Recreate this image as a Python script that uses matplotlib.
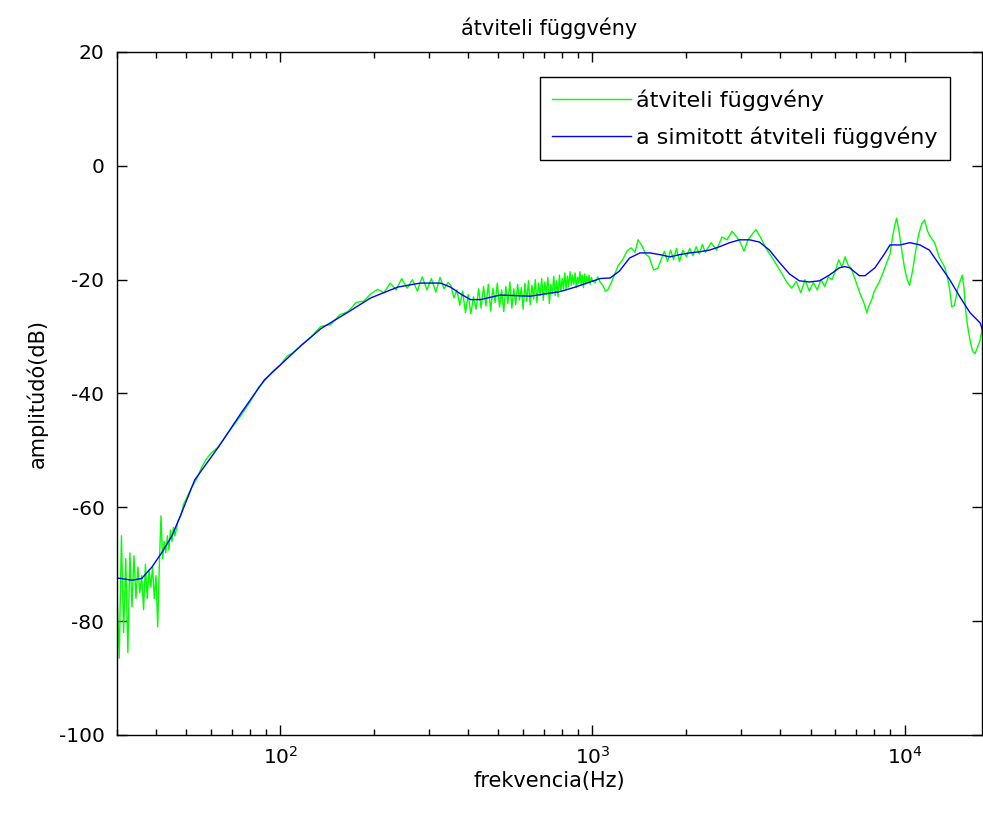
"""Transfer function (átviteli függvény) with smoothed curve."""

import matplotlib

matplotlib.use("Agg")
from matplotlib import pyplot as plt
from matplotlib.ticker import FixedLocator, LogLocator, NullFormatter

plt.rcParams["axes.unicode_minus"] = False

# raw transfer function (Hz, dB)
green_freq = [
    30.0, 30.5, 31.0, 31.5, 32.0, 32.5, 33.0, 33.5, 34.0, 34.5, 35.0, 35.5,
    36.0, 36.5, 37.0, 37.5, 38.0, 38.5, 39.0, 39.5, 40.0, 40.5, 41.0, 41.5,
    42.0, 42.5, 43.0, 43.5, 44.0, 44.5, 45.0, 45.5, 46.0, 47, 48, 49, 50,
    52, 54, 56, 58, 60, 63, 66, 70, 75, 80, 85, 90, 95, 100, 105, 110, 117,
    125, 135, 145, 155, 165, 175, 185, 195, 205, 215, 225, 235, 245, 255,
    265, 275, 285, 295, 305, 315, 325, 335, 345,
    352, 360, 368, 376, 384, 392, 400, 408, 416, 424, 432, 440, 448, 456,
    464, 472, 480, 488, 496, 504, 512, 520, 528, 536, 544, 552, 560, 568,
    576, 584, 592, 600, 608, 616, 624, 632, 640, 648, 656, 664, 672, 680,
    688, 696, 704, 712, 720, 728, 736, 744, 752, 760, 768, 776, 784, 792,
    800, 808, 816, 824, 832, 840, 848, 856, 864, 872, 880, 888, 896, 904,
    912, 920, 928, 936, 944, 952, 960, 968, 976, 984, 992, 1000,
    1020, 1040, 1060, 1080, 1100, 1120, 1150,
    1180, 1210, 1250, 1290, 1330, 1370, 1400, 1440, 1480, 1520, 1570, 1620,
    1660, 1700, 1740, 1780, 1820, 1860, 1900, 1950, 2000, 2050, 2100, 2150,
    2200, 2250, 2300, 2400, 2500, 2600, 2700, 2800, 2900, 2980, 3060, 3150,
    3250, 3340, 3450, 3600, 3750, 3900, 4050, 4200, 4350, 4500, 4650, 4800,
    4950, 5100, 5250, 5400, 5550, 5700, 5850, 6000, 6150, 6300, 6450, 6600,
    6750, 6900, 7050, 7200, 7400, 7570, 7700, 7850, 8000, 8260, 8500, 8700,
    8980, 9150, 9300, 9430, 9600, 9800, 10000, 10200, 10370, 10600, 10850,
    11100, 11350, 11590, 11850, 12100, 12480, 12900, 13440, 13700, 13950,
    14160, 14450, 14800, 15300, 15500, 15660, 15900, 16200, 16500, 16810,
    17100, 17460, 17800,
]
green_db = [
    -75, -86.5, -65, -82, -69, -85.5, -68, -77.5, -68.5, -76, -70.5, -75,
    -72, -78, -70, -76, -71, -74, -70.5, -76, -72, -81, -70, -61.5,
    -69, -66, -68, -65, -67.5, -64, -66, -63.5, -65, -62.5, -61.5, -59.5, -58.5,
    -56.5, -55, -53, -51.5, -50.5, -49.5, -48, -46, -43.8, -41.5, -39, -37.5, -36, -35, -33.5, -32.8, -31.5,
    -30.2, -28.2, -27.9, -26.2, -25.6, -24.0, -23.8, -22.5, -21.7, -22.3, -20.6, -21.8, -19.8, -21.5,
    -20.0, -22.0, -19.5, -21.8, -19.8, -22.2, -19.6, -21.6, -20.5,
    -21.0, -23.2, -21.8, -24.5, -22.0, -25.8, -22.6, -26.0, -23.0, -25.2, -21.6, -25.0, -21.2, -24.6,
    -20.8, -25.5, -21.5, -24.0, -20.6, -24.8, -21.8, -25.6, -21.2, -24.2, -20.4, -25.0, -21.6, -24.4,
    -20.8, -23.6, -21.4, -25.2, -20.6, -23.8, -20.2, -24.4, -21.0, -23.4, -20.0, -24.0, -20.6, -22.8,
    -19.8, -23.6, -20.4, -22.6, -19.6, -24.2, -20.8, -22.4, -19.4, -22.8, -20.2, -23.0, -19.2, -22.0,
    -19.8, -21.6, -18.8, -21.8, -19.4, -21.2, -18.6, -21.0, -19.2, -20.8, -18.8, -21.4, -19.6, -20.6,
    -18.6, -21.0, -19.2, -21.4, -19.0, -20.8, -19.4, -20.6, -19.2, -20.8, -19.6, -20.2,
    -20.5, -19.5, -20.5, -21.0, -22.0, -21.8, -20.5,
    -19.0, -17.5, -16.5, -15.0, -14.4, -15.2, -13.0, -14.0, -15.5, -16.0, -18.3, -18.0,
    -16.5, -15.0, -16.8, -14.8, -16.5, -14.5, -16.8, -14.8, -16.0, -14.5, -15.8, -14.2,
    -15.5, -13.8, -15.2, -13.5, -14.8, -12.5, -13.0, -11.5, -12.5, -13.5, -15.0, -13.0,
    -12.0, -11.2, -12.5, -14.5, -16.0, -17.5, -19.0, -20.5, -21.5, -20.3, -22.3, -20.0,
    -22.0, -20.5, -21.8, -20.0, -21.2, -19.5, -20.0, -18.5, -16.5, -17.8, -16.0, -17.5,
    -18.0, -19.5, -21.0, -22.5, -24.0, -25.8, -24.5, -23.5, -22.0, -20.6, -19.0, -17.5,
    -15.5, -12.5, -10.5, -9.2, -11.5, -15.0, -18.0, -20.0, -21.0, -18.5, -15.0,
    -12.0, -10.2, -9.5, -11.5, -12.5, -13.5, -16.0, -17.8, -19.5, -21.8,
    -24.8, -24.5, -21.5, -19.2, -21.5, -25.0, -28.0, -30.6, -32.5, -33.0,
    -32.0, -30.6, -28.0,
]

# smoothed transfer function (Hz, dB)
blue_freq = [
    30, 33.5, 36, 38.8, 41.7, 45, 48.3, 53.2, 63.4, 75, 89, 100, 117, 135,
    165, 195, 238, 281, 326, 351, 378, 407, 438, 507, 632, 787, 882, 983,
    1060, 1140, 1220, 1315, 1420, 1527, 1645, 1770, 1903, 2050, 2200, 2374,
    2556, 2753, 2960, 3190, 3430, 3690, 3976, 4280, 4600, 4960, 5340, 5740,
    6190, 6420, 6660, 7160, 7470, 8040, 8660, 8980, 9660, 10400, 11200,
    12000, 12940, 13950, 15030, 16200, 17460, 17800,
]
blue_db = [
    -72.4, -72.8, -72.5, -70.5, -68, -65, -61, -55.2, -49.4, -43.4, -37.6,
    -35, -31.5, -28.6, -25.7, -23.2, -21.3, -20.6, -20.6, -21.3, -22.5,
    -23.5, -23.5, -22.7, -22.9, -22.1, -21.3, -20.4, -19.8, -19.7, -18.5,
    -16.2, -15.3, -15.3, -15.6, -16, -15.6, -15.3, -15.1, -14.8, -14.2,
    -13.5, -13, -13, -13.4, -14.8, -17, -19, -20.2, -20.4, -20.2, -19.2,
    -17.9, -17.7, -17.9, -19.3, -19.3, -17.9, -15.3, -13.9, -13.9, -13.5,
    -13.9, -14.8, -17.4, -20, -23, -25.8, -27.6, -29.0,
]

y_ticks = [-100, -80, -60, -40, -20, 0, 20]

fig = plt.figure(figsize=(9.83, 8.16), dpi=100)
ax = fig.add_axes([117 / 983, 81 / 816, 865 / 983, 683 / 816])

ax.semilogx(green_freq, green_db, color="#00ff00", linewidth=1.0, label="átviteli függvény")
ax.semilogx(blue_freq, blue_db, color="#0000ff", linewidth=1.0,
            label="a simitott átviteli függvény")

ax.set_xlim(30, 17700)
ax.set_ylim(-100, 20)
ax.yaxis.set_major_locator(FixedLocator(y_ticks))
ax.xaxis.set_major_locator(LogLocator(base=10, numticks=10))
ax.xaxis.set_minor_locator(LogLocator(base=10, subs=range(2, 10), numticks=20))
ax.xaxis.set_minor_formatter(NullFormatter())

ax.tick_params(which="both", direction="in", top=True, right=True, labelsize=14.5,
               width=1.0, colors="black")
ax.tick_params(which="major", length=7)
ax.tick_params(which="minor", length=4.5)
ax.tick_params(axis="y", pad=9)
ax.tick_params(axis="x", pad=8)
for spine in ax.spines.values():
    spine.set_linewidth(1.0)

ax.set_title("átviteli függvény", fontsize=15, pad=12)
ax.set_xlabel("frekvencia(Hz)", fontsize=15, labelpad=2)
ax.set_ylabel("amplitúdó(dB)", fontsize=15, labelpad=8)

leg = ax.legend(loc="upper right", bbox_to_anchor=(0.963, 0.963), borderaxespad=0,
                fontsize=16, handlelength=3.55, handletextpad=0.25, labelspacing=0.7,
                borderpad=0.55, fancybox=False, framealpha=1)
leg.get_frame().set_edgecolor("black")
leg.get_frame().set_linewidth(1.0)

fig.savefig("out.png", dpi=100)
